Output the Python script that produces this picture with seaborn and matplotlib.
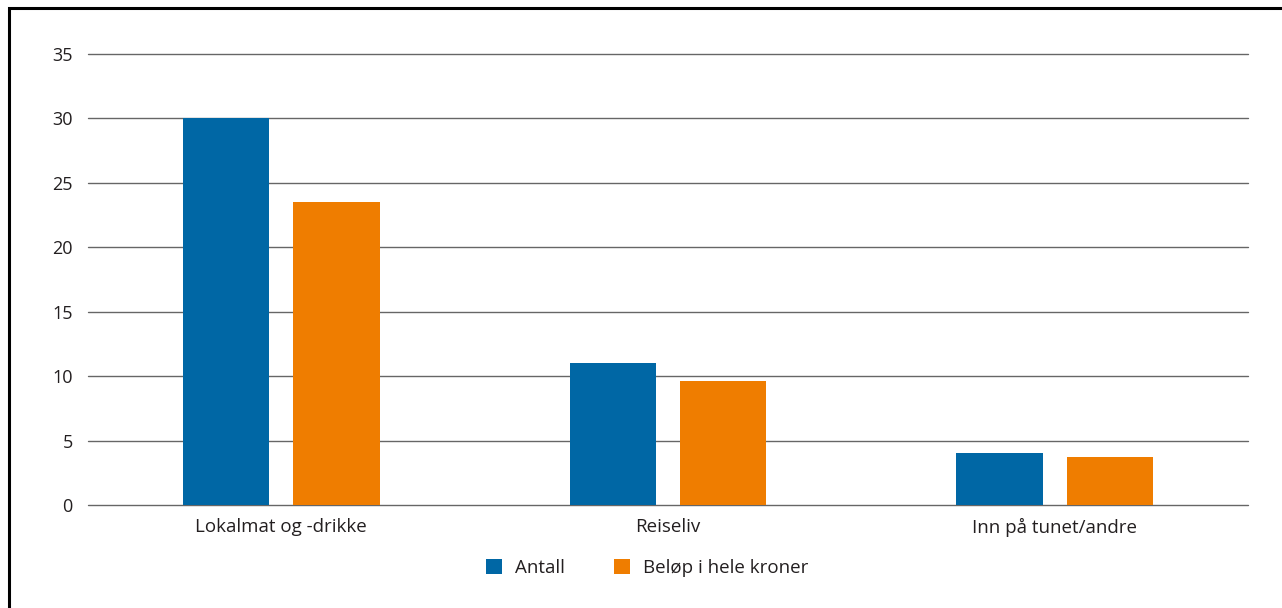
import matplotlib
matplotlib.use("Agg")
import matplotlib.pyplot as plt
import matplotlib.patches as mpatches
import seaborn as sns
import pandas as pd

categories = ["Lokalmat og -drikke", "Reiseliv", "Inn på tunet/andre"]
antall = [30, 11, 4]
belop = [23.5, 9.6, 3.7]
series_names = ["Antall", "Beløp i hele kroner"]
y_ticks = [0, 5, 10, 15, 20, 25, 30, 35]

colors = ["#0067A5", "#EF7D00"]
text_color = "#231F20"

df = pd.DataFrame({
    "kategori": categories * 2,
    "serie": [series_names[0]] * len(categories) + [series_names[1]] * len(categories),
    "verdi": antall + belop,
})

sns.set_theme(style="white")
plt.rcParams["font.family"] = ["Open Sans", "DejaVu Sans"]

fig = plt.figure(figsize=(12.82, 6.08), dpi=100)
ax = fig.add_axes([0.0686, 0.1694, 0.9049, 0.7418])

sns.barplot(data=df, x="kategori", y="verdi", hue="serie", order=categories,
            hue_order=series_names, palette=colors, width=0.57, gap=0.215,
            saturation=1, errorbar=None, ax=ax, legend=False, zorder=3,
            linewidth=0)

ax.set_xlim(-0.5, len(categories) - 0.5)
ax.set_ylim(0, 35)
ax.set_yticks(y_ticks)
ax.set_yticklabels([str(t) for t in y_ticks])
ax.yaxis.grid(True, color="#666666", linewidth=1.0, zorder=0)
for gl in ax.get_ygridlines():
    gl.set_clip_on(False)
ax.set_axisbelow(True)
for s in ax.spines.values():
    s.set_visible(False)
ax.tick_params(axis="y", length=0, pad=11, labelsize=13, labelcolor=text_color)
ax.tick_params(axis="x", length=0, pad=9, labelsize=13.5, labelcolor=text_color)
ax.set_xlabel("")
ax.set_ylabel("")

handles = [mpatches.Patch(facecolor=c, edgecolor="none") for c in colors]
fig.legend(handles, series_names, loc="center", bbox_to_anchor=(0.505, 0.066),
           ncol=2, frameon=False, fontsize=13.5, handlelength=0.85, handleheight=0.85,
           handletextpad=0.7, columnspacing=2.6, labelcolor=text_color)

# Outer frame (left and top edges visible)
fig.patches.append(mpatches.Rectangle((8.5 / 1282, -0.1), 1.2, 1 - 7.5 / 608 + 0.1,
                                      transform=fig.transFigure, fill=False,
                                      edgecolor="black", linewidth=2.2))

fig.savefig("out.png", dpi=100, facecolor="white")
